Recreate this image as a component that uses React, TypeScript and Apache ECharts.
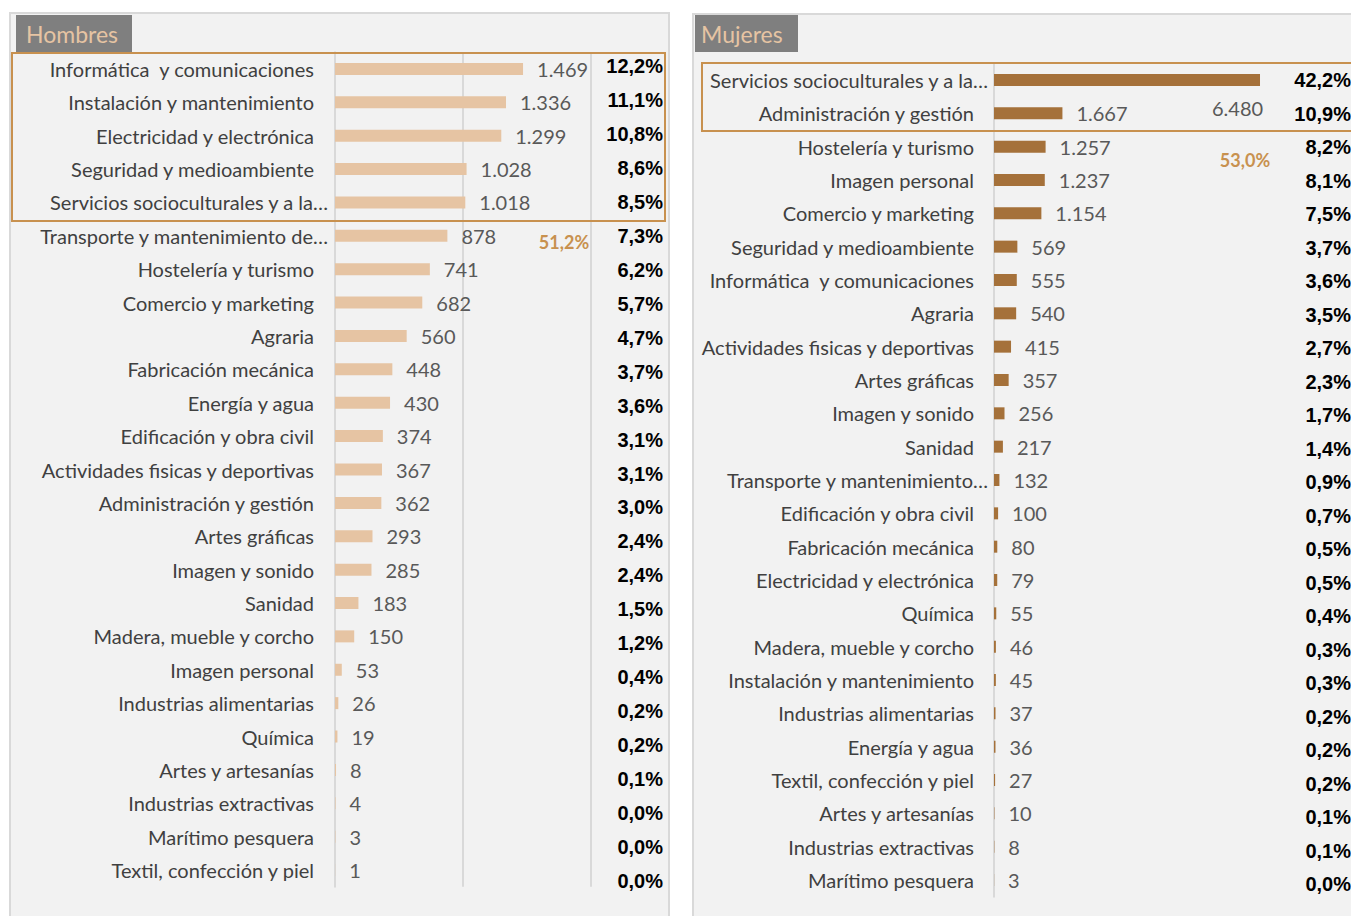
import React, { useEffect, useRef } from "react";
import * as echarts from "echarts";

const menCategories = [
  "Informática  y comunicaciones", "Instalación y mantenimiento", "Electricidad y electrónica",
  "Seguridad y medioambiente", "Servicios socioculturales y a la…", "Transporte y mantenimiento de…",
  "Hostelería y turismo", "Comercio y marketing", "Agraria", "Fabricación mecánica", "Energía y agua",
  "Edificación y obra civil", "Actividades fisicas y deportivas", "Administración y gestión",
  "Artes gráficas", "Imagen y sonido", "Sanidad", "Madera, mueble y corcho", "Imagen personal",
  "Industrias alimentarias", "Química", "Artes y artesanías", "Industrias extractivas",
  "Marítimo pesquera", "Textil, confección y piel",
];
const menValues = [1469, 1336, 1299, 1028, 1018, 878, 741, 682, 560, 448, 430, 374, 367, 362, 293, 285, 183, 150, 53, 26, 19, 8, 4, 3, 1];
const menPct = ["12,2%", "11,1%", "10,8%", "8,6%", "8,5%", "7,3%", "6,2%", "5,7%", "4,7%", "3,7%", "3,6%", "3,1%", "3,1%", "3,0%", "2,4%", "2,4%", "1,5%", "1,2%", "0,4%", "0,2%", "0,2%", "0,1%", "0,0%", "0,0%", "0,0%"];
const menTopShare = "51,2%";

const womenCategories = [
  "Servicios socioculturales y a la…", "Administración y gestión", "Hostelería y turismo",
  "Imagen personal", "Comercio y marketing", "Seguridad y medioambiente", "Informática  y comunicaciones",
  "Agraria", "Actividades fisicas y deportivas", "Artes gráficas", "Imagen y sonido", "Sanidad",
  "Transporte y mantenimiento…", "Edificación y obra civil", "Fabricación mecánica",
  "Electricidad y electrónica", "Química", "Madera, mueble y corcho", "Instalación y mantenimiento",
  "Industrias alimentarias", "Energía y agua", "Textil, confección y piel", "Artes y artesanías",
  "Industrias extractivas", "Marítimo pesquera",
];
const womenValues = [6480, 1667, 1257, 1237, 1154, 569, 555, 540, 415, 357, 256, 217, 132, 100, 80, 79, 55, 46, 45, 37, 36, 27, 10, 8, 3];
const womenPct = ["42,2%", "10,9%", "8,2%", "8,1%", "7,5%", "3,7%", "3,6%", "3,5%", "2,7%", "2,3%", "1,7%", "1,4%", "0,9%", "0,7%", "0,5%", "0,5%", "0,4%", "0,3%", "0,3%", "0,2%", "0,2%", "0,2%", "0,1%", "0,1%", "0,0%"];
const womenTopShare = "53,0%";

const FONT = "Lato, 'Open Sans', sans-serif";
const fmt = (v: number) => String(v).replace(/\B(?=(\d{3})+(?!\d))/g, ".");
// truncated labels spill slightly past the label margin, as in the original
const catItems = (cats: string[]) =>
  cats.map((c) => (c.endsWith("…") ? { value: c, textStyle: { padding: [0, -14, 0, 0] } } : c));

export default function App() {
  const ref = useRef<HTMLDivElement>(null);
  useEffect(() => {
    if (!ref.current) return;
    const chart = echarts.init(ref.current, undefined, { renderer: "svg" });
    const catLabel = { color: "#404040", fontSize: 20, fontFamily: FONT };
    const pctLabel = { color: "#000", fontSize: 20, fontWeight: "bold" as const, fontFamily: "'Liberation Sans', Arial, sans-serif", margin: 0 };
    const valLabel = { show: true, position: "right" as const, distance: 14, color: "#595959", fontSize: 20, fontFamily: FONT, formatter: (p: any) => fmt(p.value as number) };

    const womenData = womenValues.map((v, i) =>
      i === 0 ? { value: v, label: { offset: [-62, 28] } } : v
    );

    chart.setOption({
      animation: false,
      backgroundColor: "#ffffff",
      grid: [
        { left: 335, top: 52.3, width: 256, height: 834.4 },
        { left: 663, top: 49, width: 1, height: 849 },
        { left: 994, top: 63.3, width: 328.4, height: 833.4 },
        { left: 1351, top: 63.3, width: 1, height: 837.5 },
      ],
      xAxis: [
        { gridIndex: 0, type: "value", min: 0, max: 2000, interval: 1000, axisLabel: { show: false }, axisLine: { show: false }, axisTick: { show: false }, splitLine: { show: true, lineStyle: { color: "#d9d9d9", width: 2 } } },
        { gridIndex: 1, type: "value", show: false },
        { gridIndex: 2, type: "value", min: 0, max: 8000, axisLabel: { show: false }, axisLine: { show: false }, axisTick: { show: false }, splitLine: { show: false } },
        { gridIndex: 3, type: "value", show: false },
      ],
      yAxis: [
        { gridIndex: 0, type: "category", inverse: true, data: catItems(menCategories), axisTick: { show: false }, axisLine: { show: true, lineStyle: { color: "#d9d9d9", width: 2 } }, axisLabel: { ...catLabel, margin: 21 } },
        { gridIndex: 1, type: "category", inverse: true, data: menPct, axisTick: { show: false }, axisLine: { show: false }, axisLabel: pctLabel },
        { gridIndex: 2, type: "category", inverse: true, data: catItems(womenCategories), axisTick: { show: false }, axisLine: { show: true, lineStyle: { color: "#d9d9d9", width: 2 } }, axisLabel: { ...catLabel, margin: 20 } },
        { gridIndex: 3, type: "category", inverse: true, data: womenPct, axisTick: { show: false }, axisLine: { show: false }, axisLabel: pctLabel },
      ],
      series: [
        { type: "bar", xAxisIndex: 0, yAxisIndex: 0, data: menValues, barWidth: 12, itemStyle: { color: "#e6c4a3" }, label: valLabel, z: 3 },
        { type: "bar", xAxisIndex: 2, yAxisIndex: 2, data: womenData, barWidth: 12, itemStyle: { color: "#a5713a" }, label: valLabel, z: 3 },
      ],
      graphic: [
        { type: "rect", z: -10, shape: { x: 10, y: 13, width: 659, height: 910 }, style: { fill: "#f2f2f2", stroke: "#d9d9d9", lineWidth: 2 } },
        { type: "rect", z: -10, shape: { x: 693, y: 14, width: 670, height: 910 }, style: { fill: "#f2f2f2", stroke: "#d9d9d9", lineWidth: 2 } },
        { type: "rect", z: -5, shape: { x: 16, y: 15, width: 116, height: 37 }, style: { fill: "#7f7f7f" } },
        { type: "text", x: 26, y: 34, style: { text: "Hombres", fill: "#e6c4a3", fontSize: 23, fontFamily: FONT, verticalAlign: "middle" } },
        { type: "rect", z: -5, shape: { x: 695, y: 15, width: 103, height: 37 }, style: { fill: "#7f7f7f" } },
        { type: "text", x: 701, y: 34, style: { text: "Mujeres", fill: "#e6c4a3", fontSize: 23, fontFamily: FONT, verticalAlign: "middle" } },
        { type: "rect", z: 10, shape: { x: 12, y: 53, width: 653, height: 168 }, style: { fill: "none", stroke: "#c8914f", lineWidth: 2 } },
        { type: "rect", z: 10, shape: { x: 702, y: 63, width: 660, height: 68 }, style: { fill: "none", stroke: "#c8914f", lineWidth: 2 } },
        { type: "text", x: 564, y: 242, style: { text: menTopShare, fill: "#c8914f", fontSize: 18, fontWeight: "bold", fontFamily: FONT, align: "center", verticalAlign: "middle" } },
        { type: "text", x: 1245, y: 160, style: { text: womenTopShare, fill: "#c8914f", fontSize: 18, fontWeight: "bold", fontFamily: FONT, align: "center", verticalAlign: "middle" } },
      ],
    });
    return () => chart.dispose();
  }, []);
  return <div ref={ref} style={{ position: "absolute", left: 0, top: 0, width: 1351, height: 916 }} />;
}
